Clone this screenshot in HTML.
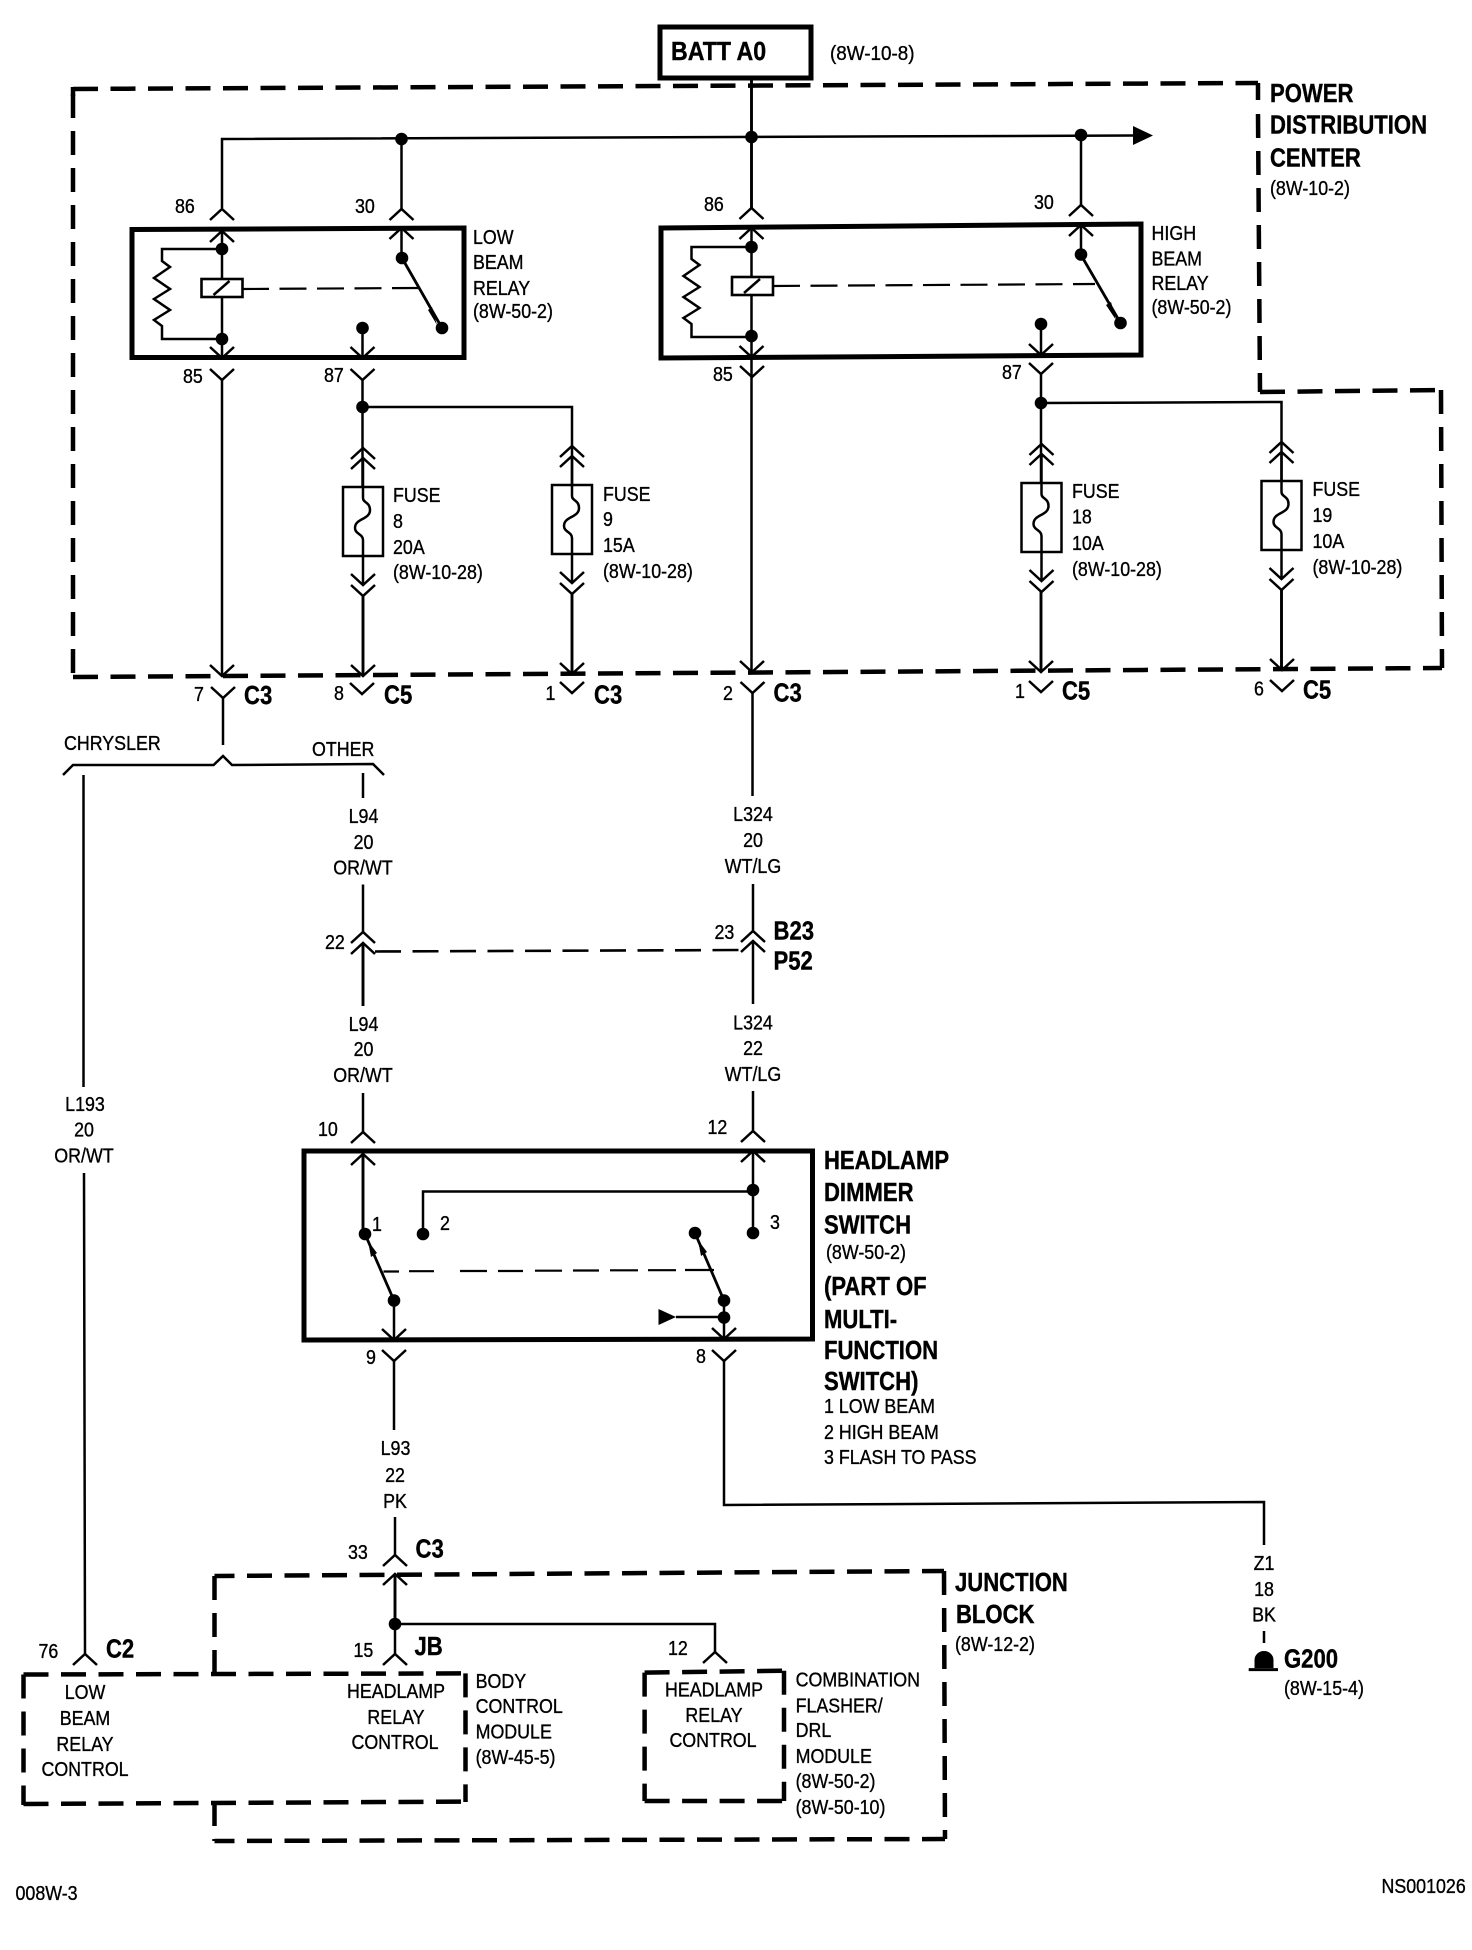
<!DOCTYPE html>
<html lang="en">
<head>
<meta charset="utf-8">
<title>Headlamp relay wiring diagram</title>
<style>
html,body{margin:0;padding:0;background:#fff;width:1472px;height:1950px;overflow:hidden}
svg{display:block}
text{font-family:"Liberation Sans",sans-serif;font-size:20.5px;fill:#000;stroke:#000;stroke-width:.35;transform-box:fill-box;transform-origin:0 50%;transform:translateY(-1.2px) scaleX(.87)}
.m{text-anchor:middle;transform-origin:50% 50%}
.b{font-weight:bold;font-size:26px;stroke-width:.4;transform:translateY(-.8px) scaleX(.85)}
.w{fill:none;stroke:#000;stroke-width:2.5}
.t{fill:none;stroke:#000;stroke-width:2.9}
.box{fill:none;stroke:#000;stroke-width:5}
.h{fill:none;stroke:#000;stroke-width:4.5;stroke-dasharray:25 12.5}
.v{fill:none;stroke:#000;stroke-width:4.5;stroke-dasharray:24 13}
.s{fill:none;stroke:#000;stroke-width:2.2;stroke-dasharray:27 10.5}
</style>
</head>
<body>
<svg xmlns="http://www.w3.org/2000/svg" width="1472" height="1950" viewBox="0 0 1472 1950">
<defs>
<path id="u" class="w" d="M-12 11L0 0L12 11"/>
<path id="n" class="w" d="M-12-11L0 0L12-11"/>
<circle id="o" r="6.3" fill="#000"/>
<g id="f">
<rect class="w" x="-20" y="0" width="40" height="69"/>
<path class="w" d="M0-29V11C0 16 7 15 7 23C7 33-8 31-8 41C-8 47 0 47 0 53V98"/>
<use href="#u" y="-39"/><use href="#u" y="-29"/>
<use href="#n" y="98"/><use href="#n" y="109"/>
</g>
<g id="r">
<path class="w" d="M60 0H0V12L8 18L-8 29L8 40L-8 50L8 61L-8 71L0 77V90H60"/>
</g>
<g id="c">
<rect x="-20" y="0" width="41" height="18" fill="#fff" stroke="#000" stroke-width="2.6"/>
<path class="w" d="M-8 16L8 2"/>
</g>
</defs>

<!-- BATT -->
<rect class="box" x="660" y="27" width="151" height="51"/>
<text class="b" x="671" y="61" style="transform:translateY(-.8px) scaleX(.89)">BATT A0</text>
<text x="830" y="61" style="transform:translateY(-1.2px) scaleX(.92)">(8W-10-8)</text>

<!-- Power distribution center outline -->
<path class="h" d="M73 89L1258 83"/>
<path class="v" d="M73 94V677"/><path class="v" d="M73 87V96"/>
<path class="v" d="M1258 114L1260 392"/><path class="w" style="stroke-width:4.5" d="M1258 83V100"/>
<path class="h" d="M1260 392L1441 390"/>
<path class="v" d="M1441 390L1442 668"/>
<path class="h" d="M73 677L1442 668"/>

<!-- Bus -->
<path class="t" d="M751.5 78V208"/>
<path class="w" d="M222 208V139L1133 135.5"/>
<path class="w" d="M401.5 139V209"/>
<path class="w" d="M1081 135V205"/>
<path d="M1133 126L1153 135.5L1133 145Z" fill="#000"/>
<use href="#o" x="401.5" y="139"/><use href="#o" x="751.5" y="137"/><use href="#o" x="1081" y="135"/>

<!-- Low beam relay -->
<path class="box" d="M132 229.500L464 228V357.500H132Z"/>
<use href="#u" x="222" y="209"/><use href="#u" x="222" y="231"/>
<use href="#u" x="401.500" y="209"/><use href="#u" x="401.500" y="228"/>
<path class="w" d="M222 231V358M401.500 228V258"/>
<use href="#o" x="222" y="249"/><use href="#o" x="222" y="339"/>
<use href="#r" x="162" y="249"/>
<use href="#c" x="221.500" y="279"/>
<path class="s" d="M242 289L418 288"/>
<path class="w" style="stroke-width:2.800" d="M402 258L442 328"/>
<path d="M428 310L437 325L432 307Z" fill="#000"/>
<use href="#o" x="402" y="258"/><use href="#o" x="442" y="328"/><use href="#o" x="362.500" y="328"/>
<path class="w" d="M362.500 328V358"/>
<use href="#n" x="222" y="358"/><use href="#n" x="362.500" y="358"/>
<use href="#n" x="222" y="380"/><use href="#n" x="362.500" y="380"/>
<path class="w" d="M222 380V676"/>
<path class="w" d="M362.500 380V487"/>
<path class="w" d="M362.500 407H572V487"/>
<use href="#o" x="362.500" y="407"/>
<use href="#f" x="363" y="487"/>
<use href="#f" x="572" y="485"/>
<path class="t" d="M363 596V676M572 594V674"/>
<use href="#n" x="222" y="676"/><use href="#n" x="363" y="676"/><use href="#n" x="572" y="674"/>
<use href="#n" x="223" y="698"/><use href="#n" x="362" y="694"/><use href="#n" x="572" y="693"/>
<path class="w" d="M223 698V745"/>

<!-- High beam relay -->
<path class="box" d="M661 228L1141 224V355L661 358Z"/>
<use href="#u" x="751.500" y="208"/><use href="#u" x="751.500" y="228"/>
<use href="#u" x="1081" y="205"/><use href="#u" x="1081" y="225"/>
<path class="w" d="M751.500 228V672M1081 225V255"/>
<use href="#o" x="751.500" y="247"/><use href="#o" x="751.500" y="336"/>
<use href="#r" x="691.500" y="247"/>
<use href="#c" x="752" y="277"/>
<path class="s" d="M773 286L1095 284"/>
<path class="w" style="stroke-width:2.800" d="M1081 255L1120.500 323"/>
<path d="M1106 305L1116 320L1111 302Z" fill="#000"/>
<use href="#o" x="1081" y="254.500"/><use href="#o" x="1120.500" y="323"/><use href="#o" x="1041" y="324"/>
<path class="w" d="M1041 324V356"/>
<use href="#n" x="751.500" y="357"/><use href="#n" x="1041" y="355"/>
<use href="#n" x="752" y="377"/><use href="#n" x="1041" y="374"/>
<path class="w" d="M1041 374V483"/>
<path class="w" d="M1041 403L1281.500 402V481"/>
<use href="#o" x="1041" y="403"/>
<use href="#f" x="1041.500" y="483"/>
<use href="#f" x="1281.500" y="481"/>
<path class="t" d="M1041 592V672M1281.500 590V670"/>
<use href="#n" x="752" y="672"/><use href="#n" x="1041" y="672"/><use href="#n" x="1282" y="670"/>
<use href="#n" x="752.500" y="693"/><use href="#n" x="1041" y="692"/><use href="#n" x="1282" y="691"/>
<path class="w" d="M752.500 693V796"/>

<!-- Top labels -->
<text x="175" y="214">86</text><text x="355" y="214">30</text>
<text x="183" y="384">85</text><text x="324" y="383">87</text>
<text x="473" y="245">LOW</text><text x="473" y="270">BEAM</text><text x="473" y="296">RELAY</text><text x="473" y="319">(8W-50-2)</text>
<text x="393" y="503">FUSE</text><text x="393" y="529">8</text><text x="393" y="555">20A</text><text x="393" y="580">(8W-10-28)</text>
<text x="603" y="502">FUSE</text><text x="603" y="527">9</text><text x="603" y="553">15A</text><text x="603" y="579">(8W-10-28)</text>
<text x="704" y="212">86</text><text x="1034" y="210">30</text>
<text x="713" y="382">85</text><text x="1002" y="380">87</text>
<text x="1151.500" y="241">HIGH</text><text x="1151.500" y="266.500">BEAM</text><text x="1151.500" y="291">RELAY</text><text x="1151.500" y="315">(8W-50-2)</text>
<text x="1072" y="499">FUSE</text><text x="1072" y="524.500">18</text><text x="1072" y="551">10A</text><text x="1072" y="577">(8W-10-28)</text>
<text x="1312.500" y="497">FUSE</text><text x="1312.500" y="523">19</text><text x="1312.500" y="549">10A</text><text x="1312.500" y="575">(8W-10-28)</text>
<text class="b" x="1270" y="103">POWER</text>
<text class="b" x="1270" y="134.500">DISTRIBUTION</text>
<text class="b" x="1270" y="167.500">CENTER</text>
<text x="1270" y="196">(8W-10-2)</text>

<!-- Connector labels -->
<text x="194" y="702">7</text><text class="b" x="244" y="705">C3</text>
<text x="334" y="701">8</text><text class="b" x="384" y="704.500">C5</text>
<text x="545.500" y="701">1</text><text class="b" x="594" y="704.500">C3</text>
<text x="723" y="701">2</text><text class="b" x="773.500" y="702.500">C3</text>
<text x="1015" y="699">1</text><text class="b" x="1062" y="700.500">C5</text>
<text x="1254" y="696.500">6</text><text class="b" x="1303" y="699.500">C5</text>

<!-- Chrysler / other bracket -->
<path class="w" d="M63 775L73 765H213.600L223 756L232 765L373 764L384 775"/>
<text x="64" y="751">CHRYSLER</text>
<text x="312" y="757">OTHER</text>
<path class="w" d="M83.500 775V1087M84 1173L85 1654"/>
<text class="m" x="85" y="1112">L193</text><text class="m" x="84" y="1137.600">20</text><text class="m" x="84" y="1163.500">OR/WT</text>

<path class="w" d="M363 773V798M363 884.500V932"/>
<text class="m" x="363.500" y="824">L94</text><text class="m" x="363.500" y="850">20</text><text class="m" x="363" y="875.500">OR/WT</text>
<use href="#u" x="363" y="932"/><use href="#u" x="363" y="943"/>
<path class="t" d="M363 943V1006"/>
<text x="325" y="950">22</text>
<path class="s" style="stroke-width:2.6;stroke-dasharray:26 11.500" d="M375 951.500L741 950"/>
<text x="714.500" y="940">23</text>
<text class="m" x="363.500" y="1032">L94</text><text class="m" x="363.500" y="1057">20</text><text class="m" x="363" y="1083">OR/WT</text>
<path class="w" d="M363 1093V1132"/>
<use href="#u" x="363" y="1132"/>
<text x="318" y="1137">10</text>

<path class="w" d="M753 884V931"/>
<text class="m" x="753" y="822">L324</text><text class="m" x="753" y="848">20</text><text class="m" x="753" y="874">WT/LG</text>
<use href="#u" x="753" y="931"/><use href="#u" x="753" y="941"/>
<path class="w" d="M753 941V1004"/>
<text class="b" x="773.500" y="940.500">B23</text><text class="b" x="773.500" y="970.500">P52</text>
<text class="m" x="753" y="1030.500">L324</text><text class="m" x="753" y="1056">22</text><text class="m" x="753" y="1082">WT/LG</text>
<path class="w" d="M753 1091V1131"/>
<use href="#u" x="753" y="1131"/>
<text x="707.500" y="1135">12</text>

<!-- Dimmer switch -->
<path class="box" d="M304 1151H812.500V1339L304 1340Z"/>
<use href="#u" x="363" y="1154"/><use href="#u" x="753" y="1151"/>
<path class="t" d="M363 1154V1234"/>
<path class="w" d="M753 1151V1233M423 1234V1191.500H753"/>
<use href="#o" x="365" y="1234"/><use href="#o" x="423" y="1234"/><use href="#o" x="753" y="1190"/><use href="#o" x="753" y="1233"/>
<text x="372" y="1232">1</text><text x="440" y="1231">2</text><text x="770" y="1230">3</text>
<path class="w" style="stroke-width:2.800" d="M365 1234L394 1300.500"/>
<path d="M368 1241L377 1253L371 1257Z" fill="#000"/>
<use href="#o" x="394" y="1300.500"/>
<path class="w" d="M394 1300V1340"/>
<use href="#n" x="394" y="1340"/>
<use href="#n" x="394" y="1361"/>
<path class="w" style="stroke-width:2.800" d="M695 1233L724 1300.500"/>
<path d="M698 1240L707 1252L701 1256Z" fill="#000"/>
<use href="#o" x="695" y="1233"/><use href="#o" x="724" y="1300.500"/><use href="#o" x="724" y="1317.500"/>
<path class="w" d="M724 1300V1339M676 1317H724"/>
<path d="M658.500 1309L676 1317L658.500 1325Z" fill="#000"/>
<use href="#n" x="724" y="1339"/><use href="#n" x="724" y="1361"/>
<path class="w" style="stroke-width:2.200" d="M383.500 1271.500H399M409 1271.200H434M460 1271H487M498 1271H523M535 1270.700H562M573 1270.500H599M610 1270.300H638M648 1270.200H676M685 1270H714"/>
<text x="366" y="1365">9</text><text x="696" y="1364">8</text>
<path class="w" d="M394 1361V1430"/>
<path class="w" d="M724 1361V1505L1264 1502V1545"/>

<text class="b" x="824" y="1170">HEADLAMP</text>
<text class="b" x="824" y="1202">DIMMER</text>
<text class="b" x="824" y="1234.500">SWITCH</text>
<text x="826" y="1260">(8W-50-2)</text>
<text class="b" x="824" y="1296">(PART OF</text>
<text class="b" x="824" y="1328.600">MULTI-</text>
<text class="b" x="824" y="1360">FUNCTION</text>
<text class="b" x="824" y="1391">SWITCH)</text>
<text x="824" y="1414">1 LOW BEAM</text>
<text x="824" y="1440">2 HIGH BEAM</text>
<text x="824" y="1465">3 FLASH TO PASS</text>

<!-- L93 -->
<text class="m" x="395.500" y="1456">L93</text><text class="m" x="395" y="1483">22</text><text class="m" x="395" y="1509">PK</text>
<path class="w" d="M395 1517V1555"/>
<use href="#u" x="395" y="1555"/><use href="#u" x="395" y="1574"/>
<text x="348" y="1560">33</text><text class="b" x="415.500" y="1558.500">C3</text>
<path class="t" d="M395 1574V1624"/>
<path class="w" d="M395 1624V1654M395 1624H715V1652"/>
<use href="#o" x="395" y="1624"/>
<use href="#u" x="395" y="1654"/><use href="#u" x="715" y="1652"/>
<text x="353.500" y="1658">15</text><text class="b" x="414.500" y="1656">JB</text>
<text x="668" y="1656">12</text>
<use href="#u" x="85" y="1654"/>
<text x="38.500" y="1659">76</text><text class="b" x="106" y="1658.500">C2</text>

<!-- Junction block outline -->
<path class="h" stroke-dashoffset="5" d="M214.500 1576L944 1571"/>
<path class="v" d="M214.500 1576V1673"/>
<path class="v" d="M214.500 1802V1841"/>
<path class="h" stroke-dashoffset="5" d="M214.500 1841L945 1839"/>
<path class="v" d="M944 1571L945 1839"/>
<text class="b" x="955" y="1592">JUNCTION</text>
<text class="b" x="956" y="1623.600">BLOCK</text>
<text x="955" y="1652">(8W-12-2)</text>

<!-- BCM outline -->
<path class="h" d="M23.500 1674.500L465.700 1673.400"/>
<path class="v" d="M23.500 1674.500V1805"/>
<path class="v" d="M465.500 1673.400V1802"/>
<path class="h" d="M23.500 1804L465.700 1801.600"/>
<text class="m" x="85" y="1700">LOW</text><text class="m" x="85" y="1726">BEAM</text><text class="m" x="85" y="1752">RELAY</text><text class="m" x="85" y="1777">CONTROL</text>
<text class="m" x="396" y="1699">HEADLAMP</text><text class="m" x="396" y="1725">RELAY</text><text class="m" x="395" y="1750">CONTROL</text>
<text x="475.600" y="1689">BODY</text><text x="475.600" y="1714">CONTROL</text><text x="475.600" y="1739.600">MODULE</text><text x="475.600" y="1765">(8W-45-5)</text>

<!-- Flasher outline -->
<path class="h" d="M644.600 1672.600L784 1670.700"/>
<path class="v" d="M644.600 1672.600V1801"/>
<path class="v" d="M784 1670.700V1801"/>
<path class="h" d="M644.600 1801H784"/>
<text class="m" x="714" y="1697.500">HEADLAMP</text><text class="m" x="714" y="1723">RELAY</text><text class="m" x="713" y="1748">CONTROL</text>
<text x="795.600" y="1687.500">COMBINATION</text><text x="795.600" y="1713.600">FLASHER/</text><text x="795.600" y="1738.400">DRL</text><text x="795.600" y="1764">MODULE</text><text x="795.600" y="1789">(8W-50-2)</text><text x="795.600" y="1815">(8W-50-10)</text>

<!-- Ground -->
<text class="m" x="1264" y="1571">Z1</text><text class="m" x="1264" y="1597">18</text><text class="m" x="1264" y="1622.500">BK</text>
<path class="w" d="M1264 1631V1643"/>
<path d="M1254.500 1668V1660A9.500 9 0 0 1 1273.500 1660V1668Z" fill="#000"/>
<path class="w" style="stroke-width:3" d="M1248.700 1669.600H1278"/>
<text class="b" x="1284" y="1668.500">G200</text>
<text x="1284" y="1696">(8W-15-4)</text>

<text x="15.500" y="1901">008W-3</text>
<text x="1381.500" y="1894">NS001026</text>
</svg>
</body>
</html>
